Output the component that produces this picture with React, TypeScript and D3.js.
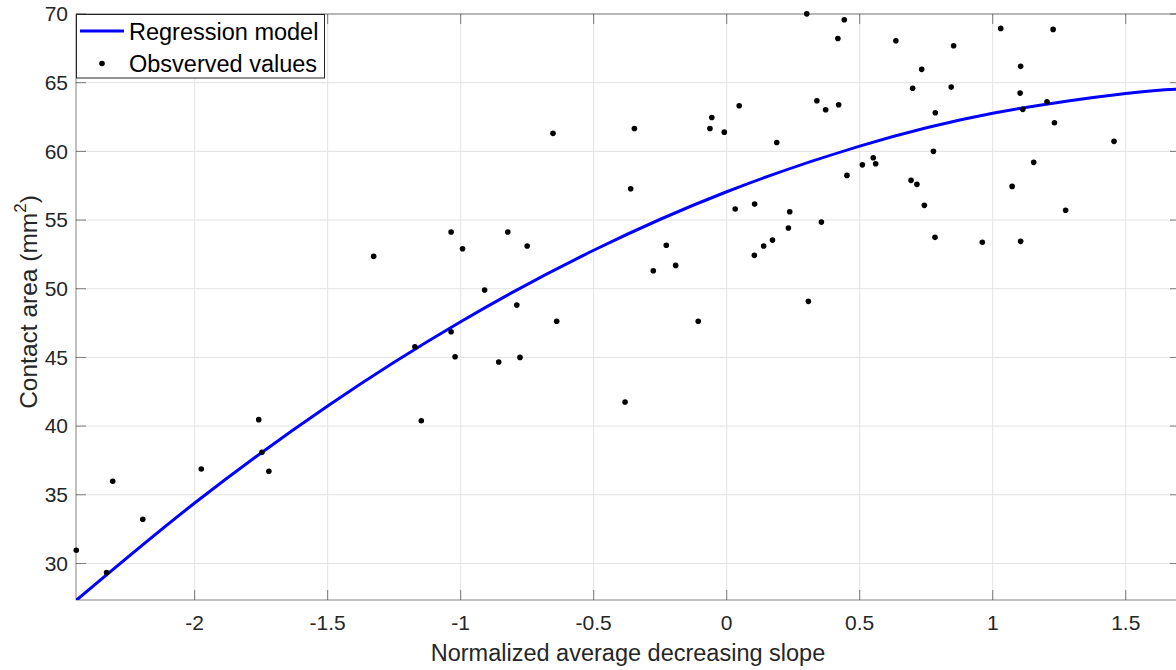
import React from "react";
import * as d3 from "d3";

const obsX = [
  -2.445, -2.331, -2.308, -2.195, -1.975, -1.759, -1.747, -1.721, -1.327, -1.172,
  -1.148, -1.036, -1.036, -1.021, -0.993, -0.91, -0.857, -0.823, -0.789, -0.777,
  -0.75, -0.653, -0.639, -0.382, -0.361, -0.347, -0.276, -0.227, -0.192, -0.107,
  -0.063, -0.056, -0.009, 0.032, 0.047, 0.104, 0.105, 0.139, 0.172, 0.188,
  0.232, 0.237, 0.301, 0.307, 0.339, 0.356, 0.372, 0.418, 0.421, 0.442,
  0.452, 0.51, 0.551, 0.56, 0.636, 0.693, 0.699, 0.715, 0.733, 0.743,
  0.777, 0.783, 0.784, 0.844, 0.853, 0.961, 1.03, 1.073, 1.103, 1.105,
  1.105, 1.113, 1.154, 1.204, 1.227, 1.232, 1.274, 1.456,
];
const obsY = [
  30.96, 29.33, 35.98, 33.22, 36.88, 40.47, 38.09, 36.71, 52.36, 45.78,
  40.39, 54.13, 46.87, 45.05, 52.91, 49.91, 44.67, 54.13, 48.81, 45.0,
  53.11, 61.31, 47.63, 41.75, 57.28, 61.67, 51.31, 53.16, 51.7, 47.63,
  61.67, 62.47, 61.4, 55.8, 63.32, 52.43, 56.16, 53.11, 53.54, 60.65,
  54.42, 55.6, 70.01, 49.08, 63.68, 54.85, 63.03, 68.22, 63.39, 69.58,
  58.25, 59.02, 59.53, 59.1, 68.05, 57.89, 64.59, 57.6, 65.97, 56.07,
  60.0, 53.74, 62.81, 64.68, 67.69, 53.38, 68.95, 57.45, 64.24, 66.19,
  53.45, 63.06, 59.2, 63.61, 68.88, 62.08, 55.71, 60.73,
];

// Regression model curve
const modelX = [-2.446, -2.0, -1.5, -1.0, -0.5, 0.0, 0.5, 1.0, 1.5, 1.704];
const modelY = [27.3, 34.4, 41.47, 47.6, 52.8, 57.06, 60.38, 62.77, 64.22, 64.54];

const xTicks = [-2, -1.5, -1, -0.5, 0, 0.5, 1, 1.5];
const yTicks = [30, 35, 40, 45, 50, 55, 60, 65, 70];
const xDomain = [-2.446, 1.704];
const yDomain = [27.34, 70];

const xLabel = "Normalized average decreasing slope";
const yLabelMain = "Contact area (mm";
const legendLabels = ["Regression model", "Obsverved values"];

const W = 1176;
const H = 670;
const M = { left: 76, right: 1180, top: 14, bottom: 600 };
const FONT = "'Liberation Sans', Arial, Helvetica, sans-serif";

export default function App() {
  const x = d3.scaleLinear().domain(xDomain).range([M.left, M.right]);
  const y = d3.scaleLinear().domain(yDomain).range([M.bottom, M.top]);

  const line = d3
    .line<number>()
    .x((_, i) => x(modelX[i]))
    .y((_, i) => y(modelY[i]))
    .curve(d3.curveNatural);

  const axisColor = "#262626";
  const gridColor = "#e3e3e3";
  const tickLen = 10;

  return (
    <svg
      width={W}
      height={H}
      style={{ position: "absolute", left: 0, top: 0, background: "#fff" }}
      fontFamily={FONT}
    >
      <defs>
        <clipPath id="plotclip">
          <rect x={M.left} y={M.top} width={M.right - M.left} height={M.bottom - M.top} />
        </clipPath>
      </defs>
      <rect x={0} y={0} width={W} height={H} fill="#fff" />
      {/* grid */}
      {xTicks.map((t) => (
        <line key={"gx" + t} x1={x(t)} x2={x(t)} y1={M.top} y2={M.bottom} stroke={gridColor} strokeWidth={1} />
      ))}
      {yTicks.map((t) => (
        <line key={"gy" + t} x1={M.left} x2={M.right} y1={y(t)} y2={y(t)} stroke={gridColor} strokeWidth={1} />
      ))}
      {/* box */}
      <rect
        x={M.left}
        y={M.top}
        width={M.right - M.left}
        height={M.bottom - M.top}
        fill="none"
        stroke={axisColor}
        strokeWidth={0.8}
        opacity={0.7}
      />
      {/* ticks */}
      {xTicks.map((t) => (
        <g key={"tx" + t} stroke={axisColor} strokeWidth={0.8} opacity={0.7}>
          <line x1={x(t)} x2={x(t)} y1={M.bottom} y2={M.bottom - tickLen} />
          <line x1={x(t)} x2={x(t)} y1={M.top} y2={M.top + tickLen} />
        </g>
      ))}
      {yTicks.map((t) => (
        <g key={"ty" + t} stroke={axisColor} strokeWidth={0.8} opacity={0.7}>
          <line x1={M.left} x2={M.left + tickLen} y1={y(t)} y2={y(t)} />
          <line x1={M.right} x2={M.right - tickLen} y1={y(t)} y2={y(t)} />
        </g>
      ))}
      {/* tick labels */}
      {xTicks.map((t) => (
        <text key={"lx" + t} x={x(t)} y={630} textAnchor="middle" fontSize={21} fill={axisColor}>
          {String(t)}
        </text>
      ))}
      {yTicks.map((t) => (
        <text key={"ly" + t} x={68} y={y(t)} dy="0.35em" textAnchor="end" fontSize={21} fill={axisColor}>
          {String(t)}
        </text>
      ))}
      {/* axis labels */}
      <text x={(M.left + M.right) / 2} y={661} textAnchor="middle" fontSize={23.5} fill={axisColor}>
        {xLabel}
      </text>
      <text
        transform={`translate(37,302) rotate(-90)`}
        textAnchor="middle"
        fontSize={24.5}
        fill={axisColor}
      >
        {yLabelMain}
        <tspan fontSize={17} dy={-11}>2</tspan>
        <tspan dy={11}>)</tspan>
      </text>
      {/* model curve */}
      <path d={line(modelX) || ""} fill="none" stroke="#0000ff" strokeWidth={3} clipPath="url(#plotclip)" />
      {/* observations */}
      {obsX.map((v, i) => (
        <circle key={"p" + i} cx={x(v)} cy={y(obsY[i])} r={2.8} fill="#000" />
      ))}
      {/* legend */}
      <g>
        <rect x={76.5} y={14.5} width={248} height={63.5} fill="#fff" stroke={axisColor} strokeWidth={1} />
        <line x1={80} x2={124} y1={31} y2={31} stroke="#0000ff" strokeWidth={3} />
        <circle cx={102} cy={63.5} r={2.8} fill="#000" />
        <text x={129} y={39.5} fontSize={23.5} fill="#000">{legendLabels[0]}</text>
        <text x={129} y={71.5} fontSize={23.5} fill="#000">{legendLabels[1]}</text>
      </g>
    </svg>
  );
}
